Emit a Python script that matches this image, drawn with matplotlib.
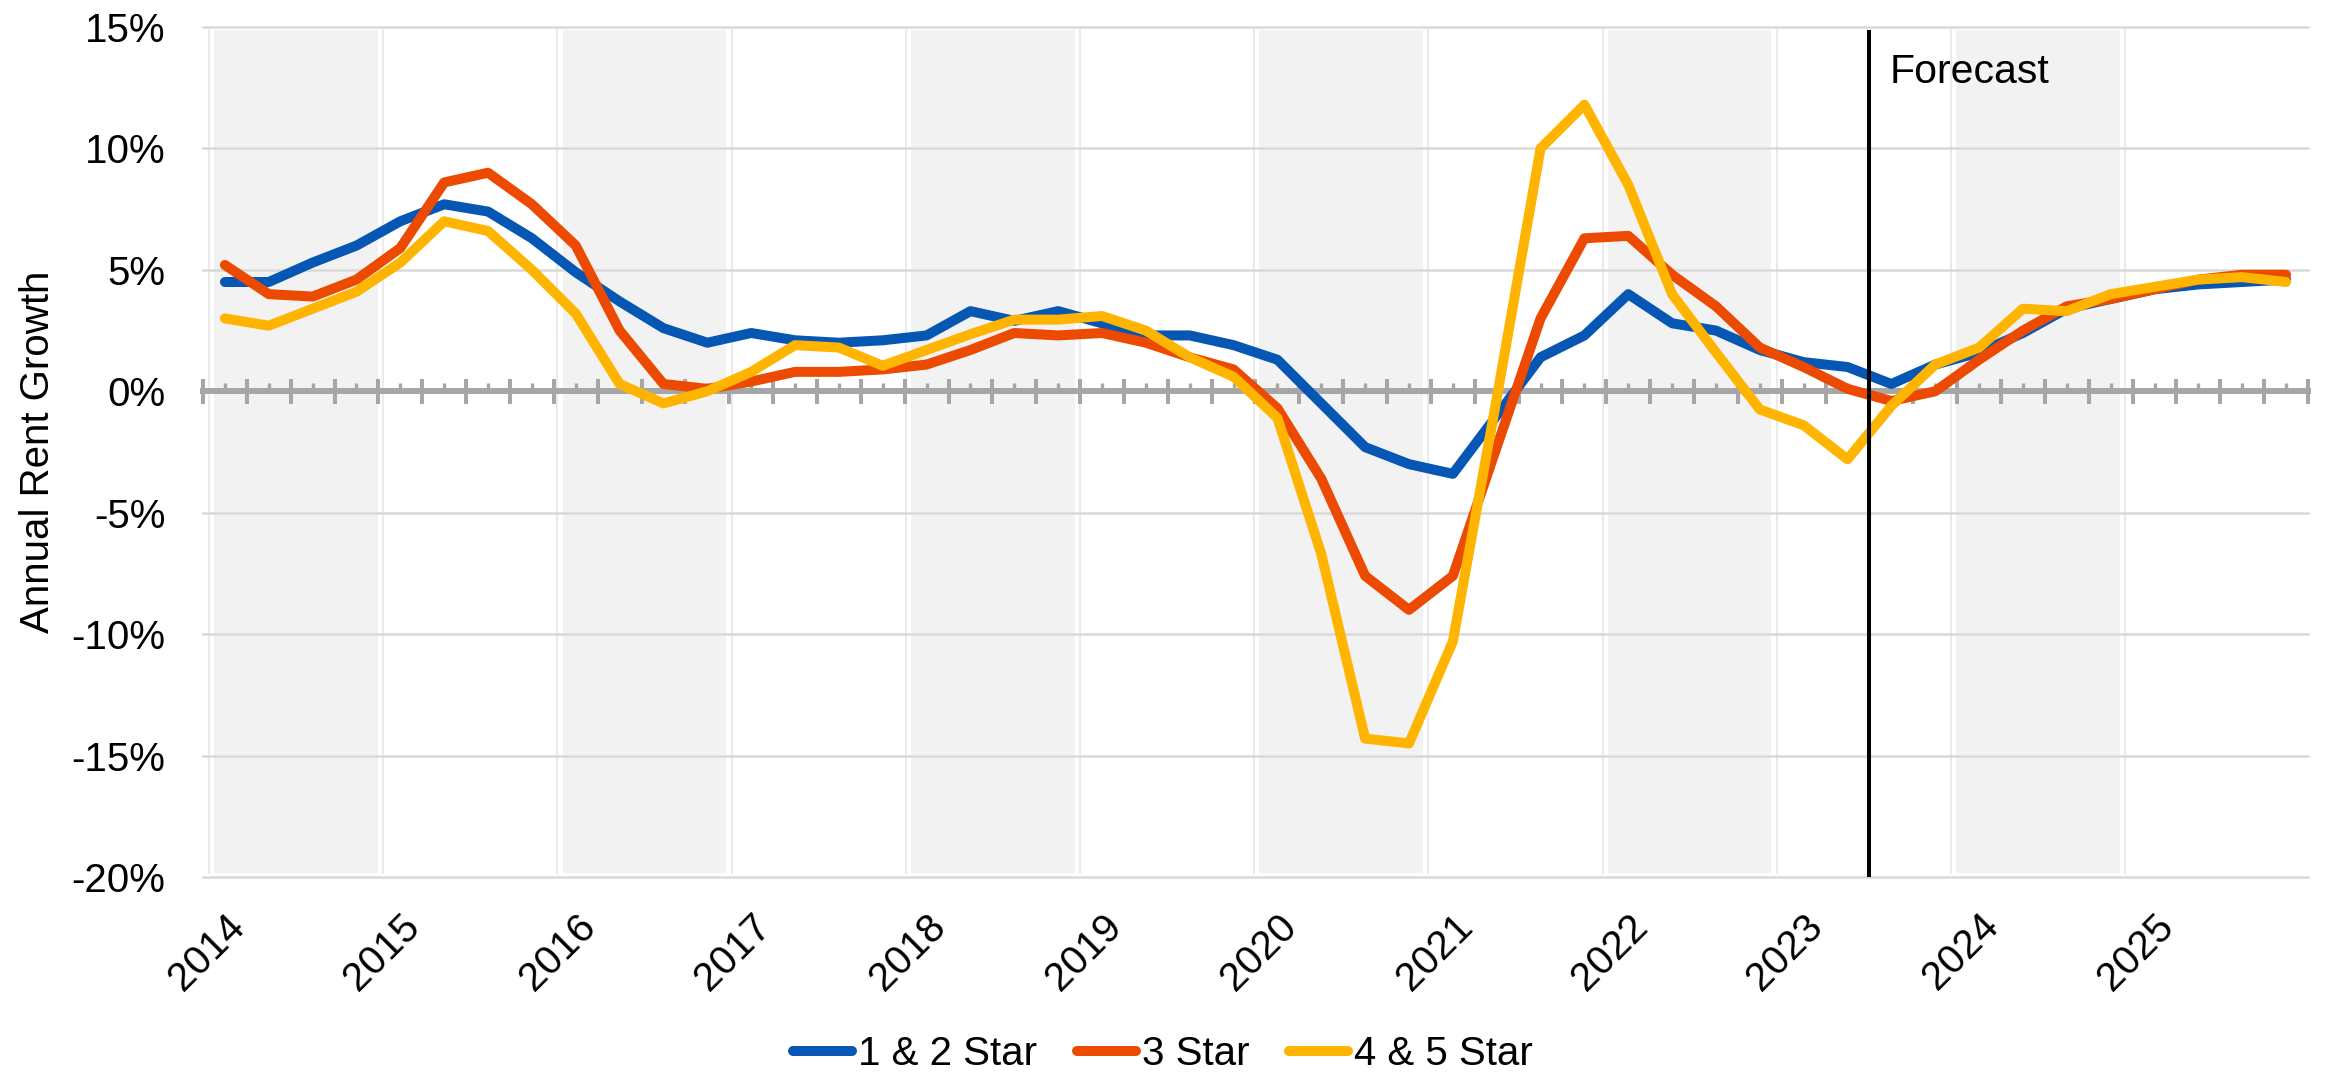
import numpy as np
import matplotlib
matplotlib.use("Agg")
import matplotlib.pyplot as plt
from matplotlib.ticker import FixedLocator

plt.rcParams["font.family"] = ["Liberation Sans", "DejaVu Sans"]

# Quarterly annual rent growth (%), 2014 Q1 - 2025 Q4
years = list(range(2014, 2026))
quarters = [f"{y} Q{q}" for y in years for q in range(1, 5)]

star_1_2 = [4.5, 4.5, 5.3, 6.0, 7.0, 7.7, 7.4, 6.3,
            4.9, 3.7, 2.6, 2.0, 2.4, 2.1, 2.0, 2.1,
            2.3, 3.3, 2.9, 3.3, 2.8, 2.3, 2.3, 1.9,
            1.3, -0.5, -2.3, -3.0, -3.4, -1.0, 1.4, 2.3,
            4.0, 2.8, 2.5, 1.7, 1.2, 1.0, 0.3, 1.1,
            1.6, 2.4, 3.4, 3.8, 4.2, 4.4, 4.5, 4.6]
star_3 = [5.2, 4.0, 3.9, 4.6, 5.9, 8.6, 9.0, 7.7,
          6.0, 2.5, 0.3, 0.1, 0.4, 0.8, 0.8, 0.9,
          1.1, 1.7, 2.4, 2.3, 2.4, 2.0, 1.4, 0.9,
          -0.7, -3.6, -7.6, -9.0, -7.6, -2.3, 3.0, 6.3,
          6.4, 4.8, 3.5, 1.8, 1.0, 0.1, -0.4, 0.0,
          1.3, 2.5, 3.5, 3.8, 4.2, 4.6, 4.8, 4.8]
star_4_5 = [3.0, 2.7, 3.4, 4.1, 5.3, 7.0, 6.6, 5.0,
            3.2, 0.3, -0.5, 0.0, 0.8, 1.9, 1.8, 1.05,
            1.7, 2.35, 2.95, 2.95, 3.1, 2.5, 1.4, 0.6,
            -1.1, -6.7, -14.3, -14.5, -10.3, -0.3, 10.0, 11.8,
            8.5, 4.0, 1.6, -0.75, -1.4, -2.8, -0.6, 1.1,
            1.8, 3.4, 3.3, 4.0, 4.3, 4.6, 4.7, 4.5]

series_names = ["1 & 2 Star", "3 Star", "4 & 5 Star"]
series_colors = ["#0656B4", "#EB4A00", "#FFB500"]
forecast_start = "2023 Q3"
y_ticks = list(range(-20, 16, 5))

# ---- figure & layout -------------------------------------------------------
W, H, DPI = 2326, 1073, 100
fig = plt.figure(figsize=(W / DPI, H / DPI), dpi=DPI)
left, right, bottom, top = 203 / W, 2308 / W, 1 - 877 / H, 1 - 27 / H
pos = [left, bottom, right - left, top - bottom]

# background: alternating shaded years on a calendar-year scale
bg = fig.add_axes(pos, zorder=0)
bg.set_axis_off()
bg.set_xlim(2013.966, 2026.05)
bg.set_ylim(0, 1)
for i, yr in enumerate(years):
    if i % 2 == 0:
        bg.axvspan(yr + 0.03, yr + 0.97, ymin=0.005, ymax=0.9965,
                   color="#f2f2f2", lw=0)
    bg.axvline(yr, ymin=0.005, ymax=0.9965, color="#ebebeb", lw=1.5)

# main chart
ax = fig.add_axes(pos, zorder=1)
ax.patch.set_alpha(0)
x = np.arange(len(quarters))

for name, vals, col in zip(series_names, [star_1_2, star_3, star_4_5], series_colors):
    ax.plot(x, vals, color=col, lw=7.2, label=name, zorder=3,
            solid_capstyle="round", solid_joinstyle="round")

ax.set_xlim(-0.5, len(quarters) - 0.5)
ax.set_ylim(y_ticks[0], y_ticks[-1])

# y axis: percent labels and horizontal gridlines
ax.set_yticks(y_ticks)
ax.set_yticklabels([f"{v}%" for v in y_ticks], fontsize=29)
ax.tick_params(axis="y", length=0, pad=27)
ax.grid(axis="y", color="#d9d9d9", lw=1.8)
for gl in ax.get_ygridlines():
    gl.set_clip_on(False)
ax.set_ylabel("Annual Rent Growth", fontsize=29)
ax.yaxis.set_label_coords(-0.0694, 0.5)

for s in ["left", "right", "top"]:
    ax.spines[s].set_visible(False)

# category axis drawn along the zero line
ax.spines["bottom"].set_position(("data", 0))
ax.spines["bottom"].set_color("#a6a6a6")
ax.spines["bottom"].set_linewidth(4.3)
ax.xaxis.set_major_locator(FixedLocator(np.arange(-0.5, len(quarters), 1.0)))
ax.xaxis.set_minor_locator(FixedLocator(x))
ax.tick_params(axis="x", which="major", direction="inout", length=18,
               width=2.9, color="#a6a6a6", labelbottom=False)
ax.tick_params(axis="x", which="minor", direction="in", length=5.8,
               width=2.4, color="#a6a6a6")

# year labels at the bottom of the plot area
sec = ax.secondary_xaxis(0)
sec.set_xticks(x[::4], labels=[str(y) for y in years])
sec.tick_params(length=0, pad=21.6, labelsize=29)
sec.spines["bottom"].set_visible(False)
for lbl in sec.get_xticklabels():
    lbl.set_rotation(45)
    lbl.set_ha("right")
    lbl.set_rotation_mode("anchor")

# forecast divider
fx = quarters.index(forecast_start) - 0.5
ax.axvline(fx, ymin=0, ymax=(877 - 32) / 850, color="black", lw=2.9, zorder=4)
ax.annotate("Forecast", xy=(fx, 1), xycoords=("data", "axes fraction"),
            xytext=(14.4, -40.3), textcoords="offset points",
            ha="left", va="baseline", fontsize=29.5)

handles, labels = ax.get_legend_handles_labels()
fig.legend(handles, labels, loc="lower center", bbox_to_anchor=(0.5, 0.0),
           ncol=3, frameon=False, fontsize=29, handlelength=1.45,
           handletextpad=0.15, columnspacing=1.0, borderpad=0,
           borderaxespad=0)

fig.savefig("out.png", dpi=DPI)
